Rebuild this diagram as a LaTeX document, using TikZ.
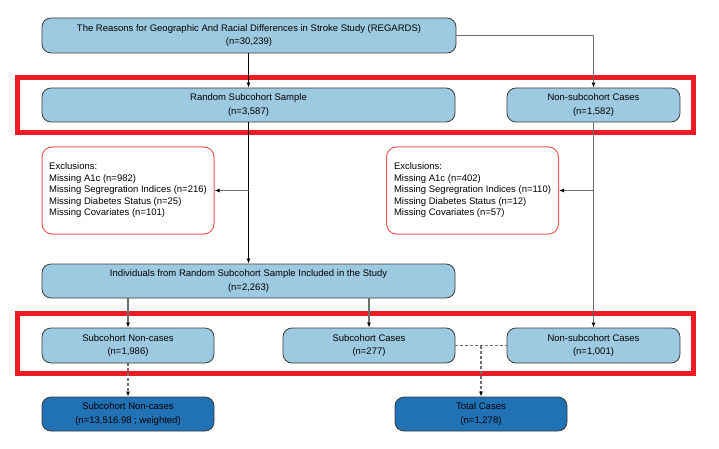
\documentclass[tikz,border=0pt]{standalone}
\usepackage{fontspec}
\setmainfont{Liberation Sans}
\usetikzlibrary{arrows.meta}
\definecolor{lblue}{HTML}{9ECAE1}
\definecolor{dblue}{HTML}{2171B5}
\definecolor{bordgray}{HTML}{3C3C3C}
\definecolor{linegray}{HTML}{6E6E6E}
\definecolor{exred}{HTML}{F05A5A}
\definecolor{hired}{HTML}{ED1C24}
\begin{document}
\begin{tikzpicture}[x=1pt,y=-1pt,
  box/.style={draw=bordgray, line width=0.8pt, rounded corners=9pt, fill=lblue,
    align=center, inner sep=0pt, font=\fontsize{9.5}{13.5}\selectfont},
  darkbox/.style={box, fill=dblue},
  exbox/.style={draw=exred, line width=1pt, rounded corners=10pt, fill=white,
    align=left, inner xsep=7pt, inner ysep=0pt, minimum width=172pt,
    minimum height=87pt, font=\fontsize{9.5}{11.5}\selectfont},
  hilite/.style={draw=hired, line width=5pt},
  conn/.style={draw=linegray, line width=1.1pt, -{Latex[length=5pt,width=4pt,color=black]}},
  mainconn/.style={conn, draw=black},
  dconn/.style={conn, dash pattern=on 3pt off 2pt},
  dline/.style={draw=linegray, line width=1.1pt, dash pattern=on 3pt off 2pt}]
\useasboundingbox (0,0) rectangle (719,449);

% highlight rectangles
\draw[hilite] (17.5,77.5) rectangle (693,133);
\draw[hilite] (17.5,313) rectangle (693,373.5);

% nodes
\node[box, minimum width=414pt, minimum height=35pt] (top) at (249,35.5)
  {The Reasons for Geographic And Racial Differences in Stroke Study (REGARDS)\\(n=30,239)};
\node[box, minimum width=413pt, minimum height=34pt] (rand) at (248.5,105)
  {Random Subcohort Sample\\(n=3,587)};
\node[box, minimum width=173pt, minimum height=34pt] (nsc1) at (593.5,105)
  {Non-subcohort Cases\\(n=1,582)};
\node[exbox] (exL) at (128,190.5)
  {Exclusions:\\Missing A1c (n=982)\\Missing Segregration Indices (n=216)\\Missing Diabetes Status (n=25)\\Missing Covariates (n=101)};
\node[exbox] (exR) at (472.5,190.5)
  {Exclusions:\\Missing A1c (n=402)\\Missing Segregration Indices (n=110)\\Missing Diabetes Status (n=12)\\Missing Covariates (n=57)};
\node[box, minimum width=413pt, minimum height=34pt] (ind) at (248.5,281)
  {Individuals from Random Subcohort Sample Included in the Study\\(n=2,263)};
\node[box, minimum width=172pt, minimum height=35pt] (snc) at (128,345.5)
  {Subcohort Non-cases\\(n=1,986)};
\node[box, minimum width=172pt, minimum height=35pt] (sc) at (369,345.5)
  {Subcohort Cases\\(n=277)};
\node[box, minimum width=173pt, minimum height=35pt] (nsc2) at (593.5,345.5)
  {Non-subcohort Cases\\(n=1,001)};
\node[darkbox, minimum width=172pt, minimum height=34pt] (sncw) at (128,414)
  {Subcohort Non-cases\\(n=13,516.98 ; weighted)};
\node[darkbox, minimum width=172pt, minimum height=34pt] (tot) at (481,414)
  {Total Cases\\(n=1,278)};

% junction coordinates
\coordinate (jL) at (rand.south |- exL.east);
\coordinate (jR) at (nsc1.south |- exR.east);
\coordinate (jC) at (tot.north |- sc.east);

% connectors
\draw[mainconn] (top.south -| rand.north) -- (rand.north);
\draw[conn] (top.east) -| (nsc1.north);
\draw[mainconn] (rand.south) -- (ind.north);
\draw[conn] (nsc1.south) -- (nsc2.north);
\draw[conn] (jL) -- (exL.east);
\draw[conn] (jR) -- (exR.east);
\draw[conn] (ind.south -| snc.north) -- (snc.north);
\draw[conn] (ind.south -| sc.north) -- (sc.north);
\draw[dconn] (snc.south) -- (sncw.north);
\draw[dline] (sc.east) -- (nsc2.west);
\draw[dconn] (jC) -- (tot.north);
\end{tikzpicture}
\end{document}
